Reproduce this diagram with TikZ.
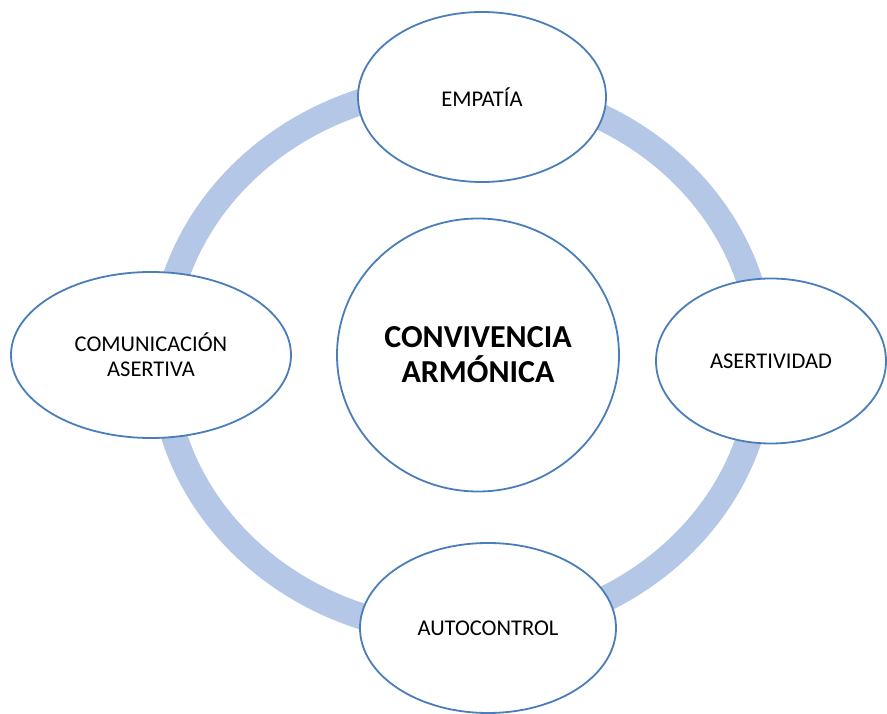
\documentclass[tikz,border=0pt]{standalone}
\usepackage{fontspec}
\setmainfont{Carlito}
\usetikzlibrary{shapes.geometric}
\definecolor{ringblue}{HTML}{B4C7E7}
\definecolor{edgeblue}{HTML}{4A7EBB}
\tikzset{
  bubble/.style={ellipse, draw=edgeblue, line width=1.8pt, fill=white, inner sep=0pt,
    align=center, font=\fontsize{22.5}{25}\selectfont},
  hub/.style={bubble, font=\fontsize{32}{35}\selectfont\bfseries}
}
\begin{document}
\begin{tikzpicture}[x=1pt,y=1pt]
\useasboundingbox (0,0) rectangle (887,713);
\draw[ringblue, line width=26pt] (462,354) ellipse [x radius=300, y radius=273];
\node[hub, minimum width=282pt, minimum height=273pt] (hub) at (478,358) {CONVIVENCIA\\ARMÓNICA};
\node[bubble, minimum width=248pt, minimum height=170pt] (emp) at (482,616) {EMPATÍA};
\node[bubble, minimum width=280pt, minimum height=166pt] (com) at (151,358) {COMUNICACIÓN\\ASERTIVA};
\node[bubble, minimum width=230pt, minimum height=165pt] (ase) at (771,352) {ASERTIVIDAD};
\node[bubble, minimum width=256pt, minimum height=170pt] (aut) at (488,85) {AUTOCONTROL};
\end{tikzpicture}
\end{document}
